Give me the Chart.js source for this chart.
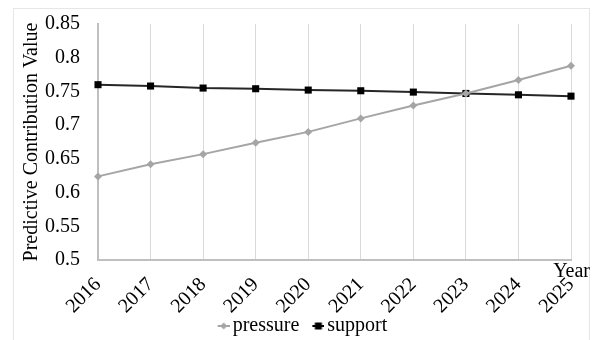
<!DOCTYPE html>
<html>
<head>
<meta charset="utf-8">
<script src="https://cdn.jsdelivr.net/npm/chart.js@4.4.0/dist/chart.umd.min.js"></script>
<style>
  html, body { margin: 0; padding: 0; background: #fff; }
  #wrap { width: 594px; height: 340px; }
</style>
</head>
<body>
<div id="wrap"><canvas id="chart" width="594" height="340"></canvas></div>
<script>
// Data
const years = ['2016', '2017', '2018', '2019', '2020', '2021', '2022', '2023', '2024', '2025'];
const pressure = [0.624, 0.642, 0.657, 0.674, 0.690, 0.710, 0.729, 0.747, 0.767, 0.788];
const support = [0.760, 0.758, 0.755, 0.754, 0.752, 0.751, 0.749, 0.747, 0.745, 0.743];
const yTitle = 'Predictive Contribution Value';
const xTitle = 'Year';

const serif = '"Liberation Serif", "Times New Roman", serif';

// legend marker: short line with the point marker, sitting at the right of the image
function legendMarker(color, shape) {
  const c = document.createElement('canvas');
  c.width = 30; c.height = 10;
  const g = c.getContext('2d');
  g.strokeStyle = color;
  g.lineWidth = 2;
  g.beginPath(); g.moveTo(18, 5); g.lineTo(30, 5); g.stroke();
  g.fillStyle = color;
  if (shape === 'diamond') {
    g.beginPath(); g.moveTo(24, 1.5); g.lineTo(27.5, 5); g.lineTo(24, 8.5); g.lineTo(20.5, 5); g.closePath(); g.fill();
  } else {
    g.fillRect(20.5, 1.5, 7, 7);
  }
  return c;
}

// light frame round the whole chart and the "Year" label at the axis end
const extras = {
  id: 'extras',
  beforeDraw(chart) {
    const ctx = chart.ctx;
    ctx.save();
    ctx.strokeStyle = '#e6e6e6';
    ctx.lineWidth = 1;
    ctx.strokeRect(13.5, 8.5, 576, 340);
    ctx.restore();
  },
  afterDraw(chart) {
    const ctx = chart.ctx;
    const area = chart.chartArea;
    ctx.save();
    ctx.font = '20px ' + serif;
    ctx.fillStyle = '#000';
    ctx.textAlign = 'right';
    ctx.textBaseline = 'top';
    ctx.fillText(xTitle, 590, area.bottom + 2);
    ctx.restore();
  }
};

new Chart(document.getElementById('chart'), {
  type: 'line',
  data: {
    labels: years,
    datasets: [
      {
        label: 'pressure',
        data: pressure,
        borderColor: '#a5a5a5',
        backgroundColor: '#a5a5a5',
        borderWidth: 2,
        pointStyle: 'rectRot',
        pointRadius: 4,
        pointBorderWidth: 0,
        tension: 0
      },
      {
        label: 'support',
        data: support,
        borderColor: '#262626',
        backgroundColor: '#000',
        borderWidth: 2,
        pointStyle: 'rect',
        pointRadius: 5,
        pointBorderWidth: 0,
        tension: 0
      }
    ]
  },
  options: {
    responsive: false,
    animation: false,
    layout: { padding: { left: 13, right: 13, top: 24, bottom: -6 } },
    plugins: {
      tooltip: { enabled: false },
      legend: {
        position: 'bottom',
        labels: {
          font: { family: serif, size: 20 },
          color: '#000',
          usePointStyle: true,
          pointStyleWidth: 16,
          boxWidth: 16,
          boxHeight: 10,
          padding: 2,
          generateLabels(chart) {
            return chart.data.datasets.map((ds, i) => ({
              text: ds.label,
              pointStyle: legendMarker(i === 0 ? '#a5a5a5' : '#000', i === 0 ? 'diamond' : 'square'),
              fillStyle: ds.backgroundColor,
              strokeStyle: ds.borderColor,
              lineWidth: 0,
              fontColor: '#000',
              datasetIndex: i
            }));
          }
        }
      }
    },
    scales: {
      x: {
        offset: false,
        afterFit: scale => {
          scale.height = 54;
          scale.paddingLeft = 0;
          scale.paddingRight = 23;
        },
        grid: { color: '#d9d9d9', lineWidth: 1, drawTicks: false },
        border: { color: '#bfbfbf', width: 2 },
        ticks: {
          font: { family: serif, size: 20 },
          color: '#000',
          minRotation: 45,
          maxRotation: 45,
          padding: 13
        }
      },
      y: {
        min: 0.5,
        max: 0.85,
        afterFit: scale => {
          scale.width = 85;
          scale.paddingTop = 0;
          scale.paddingBottom = 0;
        },
        grid: { display: false, drawTicks: false },
        border: { display: true, color: '#bfbfbf', width: 2 },
        ticks: {
          stepSize: 0.05,
          font: { family: serif, size: 20 },
          color: '#000',
          padding: 18,
          callback: v => String(Math.round(v * 100) / 100)
        },
        title: {
          display: true,
          text: yTitle,
          font: { family: serif, size: 20 },
          color: '#000',
          padding: { top: 7, bottom: 0 }
        }
      }
    }
  },
  plugins: [extras]
});
</script>
</body>
</html>
